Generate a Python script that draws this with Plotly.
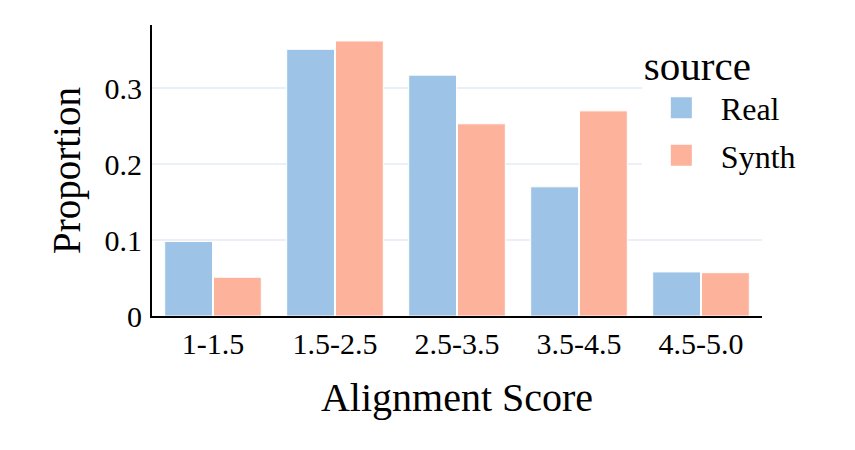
import plotly.graph_objects as go

categories = ["1-1.5", "1.5-2.5", "2.5-3.5", "3.5-4.5", "4.5-5.0"]
real_values = [0.098, 0.351, 0.317, 0.170, 0.058]
synth_values = [0.051, 0.362, 0.253, 0.270, 0.057]
y_tick_vals = [0, 0.1, 0.2, 0.3]
y_tick_text = ["0", "0.1", "0.2", "0.3"]

real_color = "#9DC3E6"
synth_color = "#FDB29C"
font_family = "Liberation Serif, Times New Roman, serif"

fig = go.Figure()
fig.add_trace(go.Bar(name="Real", x=categories, y=real_values,
                     marker=dict(color=real_color, line=dict(color="white", width=1)),
                     showlegend=False))
fig.add_trace(go.Bar(name="Synth", x=categories, y=synth_values,
                     marker=dict(color=synth_color, line=dict(color="white", width=1)),
                     showlegend=False))
# legend proxies (larger symbols)
for name, col in [("Real", real_color), ("Synth", synth_color)]:
    fig.add_trace(go.Scatter(name=name, x=[None], y=[None], mode="markers",
                             legendgroup=name,
                             marker=dict(symbol="square", size=16, color=col,
                                         line=dict(color=col, width=5))))

fig.update_layout(
    width=855, height=450,
    template="plotly_white",
    paper_bgcolor="white", plot_bgcolor="white",
    font=dict(family=font_family, color="black", size=30),
    margin=dict(l=144, r=101, t=17, b=142),
    barmode="group", bargap=0.2, bargroupgap=0.02,
    legend=dict(title=dict(text="source", font=dict(size=41)),
                font=dict(size=32), bgcolor="white",
                x=0.803, xanchor="left", y=0.993, yanchor="top",
                itemwidth=69, tracegroupgap=3),
    xaxis=dict(title=dict(text="Alignment Score", font=dict(size=40), standoff=24),
               showline=True, linecolor="black", linewidth=2,
               showgrid=False, ticks="", tickfont=dict(size=30)),
    yaxis=dict(title=dict(text="Proportion", font=dict(size=39), standoff=12),
               range=[0, 0.383], tickvals=y_tick_vals, ticktext=y_tick_text,
               showline=True, linecolor="black", linewidth=2,
               showgrid=True, gridcolor="#EBF0F8", gridwidth=2,
               zeroline=False, ticks="", tickfont=dict(size=30),
               ticklabelstandoff=2),
)

fig.write_html("out.html")
